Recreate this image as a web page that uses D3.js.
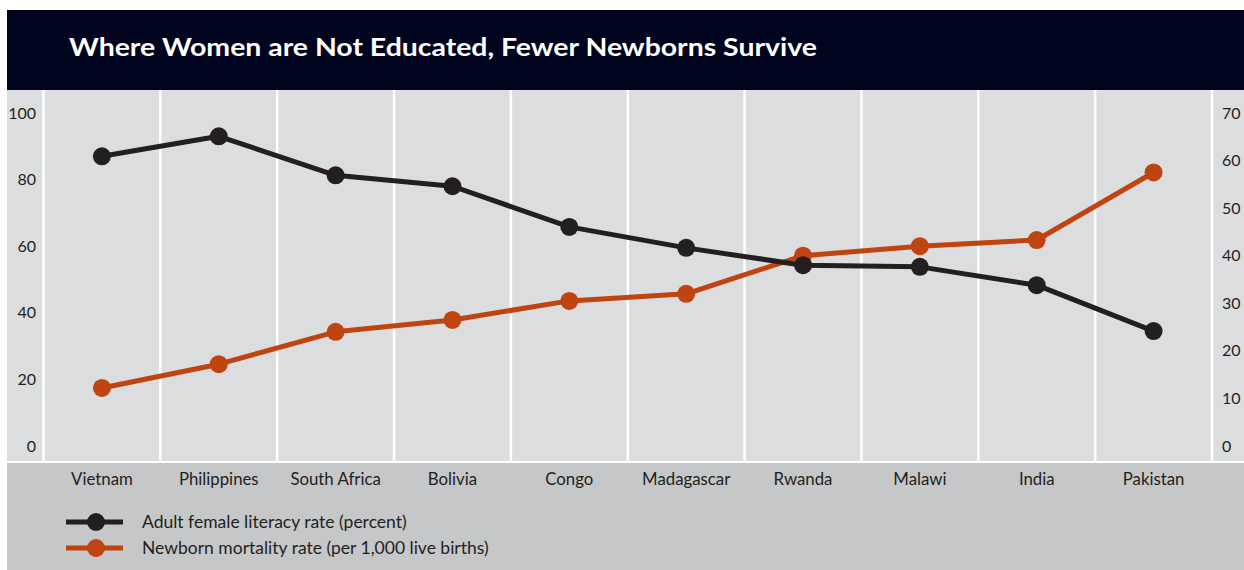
<!DOCTYPE html>
<html><head><meta charset="utf-8">
<script src="https://cdn.jsdelivr.net/npm/d3@7"></script>
<style>
body{margin:0;background:#fff;}
svg{display:block;font-family:Lato,"Open Sans",sans-serif;}
</style></head>
<body><svg id="c" width="1244" height="570"></svg>
<script>
const countries = ["Vietnam","Philippines","South Africa","Bolivia","Congo","Madagascar","Rwanda","Malawi","India","Pakistan"];
const literacy = [87, 93, 81.3, 78, 65.8, 59.5, 54.3, 53.8, 48.3, 34.5];
const mortality = [12.2, 17.2, 24, 26.5, 30.5, 32, 40, 42, 43.3, 57.5];
const leftTicks = [0,20,40,60,80,100];
const rightTicks = [0,10,20,30,40,50,60,70];
const title = "Where Women are Not Educated, Fewer Newborns Survive";
const legendLabels = ["Adult female literacy rate (percent)","Newborn mortality rate (per 1,000 live births)"];
const colors = ["#231f20","#c0440f"];

const svg = d3.select("#c");
const L = 7, plotTop = 90, plotBot = 462, bandL = 43.5, bandR = 1212;

svg.append("rect").attr("x",L).attr("y",10).attr("width",1244-L).attr("height",80).attr("fill","#01041f");
svg.append("text").attr("x",69).attr("y",56).attr("fill","#fff").attr("font-size",25).attr("font-weight","bold")
  .attr("textLength",748).attr("lengthAdjust","spacingAndGlyphs").text(title);
svg.append("rect").attr("x",L).attr("y",plotTop).attr("width",1244-L).attr("height",plotBot-plotTop).attr("fill","#dcdddf");
svg.append("rect").attr("x",L).attr("y",plotBot).attr("width",1244-L).attr("height",570-plotBot).attr("fill","#c6c7c9");
svg.append("rect").attr("x",L).attr("y",plotBot-1).attr("width",1244-L).attr("height",2).attr("fill","#fff");

const x = d3.scaleBand().domain(countries).range([bandL,bandR]);
const yL = d3.scaleLinear().domain([0,100]).range([446,113]);
const yR = d3.scaleLinear().domain([0,70]).range([446,113]);

// vertical separators
const edges = countries.map(c=>x(c)).concat([bandR]);
svg.append("g").selectAll("line").data(edges).join("line")
  .attr("x1",d=>d).attr("x2",d=>d).attr("y1",plotTop).attr("y2",plotBot)
  .attr("stroke","#fff").attr("stroke-width",2.5);

// axes
const gl = svg.append("g").attr("transform","translate(36,0)")
  .call(d3.axisLeft(yL).tickValues(leftTicks).tickSize(0).tickPadding(0));
const gr = svg.append("g").attr("transform","translate(1222,0)")
  .call(d3.axisRight(yR).tickValues(rightTicks).tickSize(0).tickPadding(0));
[gl,gr].forEach(g=>{
  g.select(".domain").remove();
  g.selectAll("text").attr("font-size",16).attr("fill","#231f20").attr("font-family","Lato,sans-serif");
});

// x labels
const gx = svg.append("g").attr("transform",`translate(0,${plotBot})`)
  .call(d3.axisBottom(x).tickSize(0).tickPadding(0));
gx.select(".domain").remove();
gx.selectAll("text").attr("font-size",16.8).attr("fill","#231f20").attr("font-family","Lato,sans-serif")
  .attr("dy",null).attr("y",23);

const cx = c => x(c) + x.bandwidth()/2;
const series = [{vals:literacy,y:yL,col:colors[0]},{vals:mortality,y:yR,col:colors[1]}];
[series[1],series[0]].forEach(s=>{
  const line = d3.line().x((d,i)=>cx(countries[i])).y(d=>s.y(d));
  svg.append("path").datum(s.vals).attr("d",line).attr("fill","none").attr("stroke",s.col).attr("stroke-width",5).attr("stroke-linejoin","round");
  svg.append("g").selectAll("circle").data(s.vals).join("circle")
    .attr("cx",(d,i)=>cx(countries[i])).attr("cy",d=>s.y(d)).attr("r",9).attr("fill",s.col);
});

// legend
const lg = svg.append("g");
legendLabels.forEach((t,i)=>{
  const yy = 522 + i*26;
  lg.append("line").attr("x1",66).attr("x2",123).attr("y1",yy).attr("y2",yy).attr("stroke",colors[i]).attr("stroke-width",5);
  lg.append("circle").attr("cx",96).attr("cy",yy).attr("r",9).attr("fill",colors[i]);
  lg.append("text").attr("x",142).attr("y",yy).attr("dy","0.35em").attr("font-size",17.5).attr("fill","#231f20").text(t);
});
</script></body></html>
